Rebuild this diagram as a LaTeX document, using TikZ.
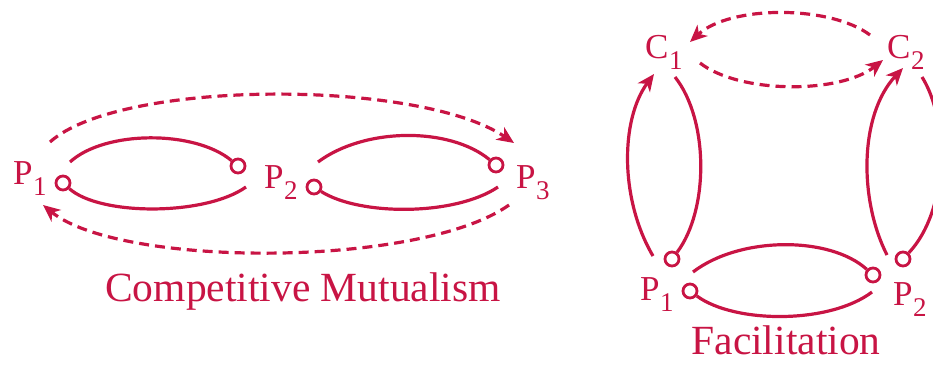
\documentclass[tikz,border=0pt]{standalone}
\usepackage{fontspec}
\setmainfont{Liberation Serif}
\usetikzlibrary{arrows.meta}
\definecolor{crim}{RGB}{200,20,68}
\newcommand{\lbl}[2]{#1\kern0.5pt\raisebox{-11pt}{\fontsize{27}{27}\selectfont #2}}
\begin{document}
\begin{tikzpicture}[x=1pt,y=-1pt,
  dot/.style={circle,draw=crim,fill=white,line width=2.8pt,minimum size=14pt,inner sep=0pt},
  inh/.style={draw=crim,line width=3.2pt},
  posarr/.style={draw=crim,line width=3.2pt,-{Stealth[length=17pt,width=15pt,inset=5pt]}},
  indir/.style={draw=crim,line width=3.2pt,dash pattern=on 10pt off 6pt,-{Stealth[length=17pt,width=15pt,inset=5pt]}},
  lab/.style={text=crim,font=\fontsize{35}{40}\selectfont,inner sep=0pt,anchor=base west},
  ttl/.style={text=crim,font=\fontsize{41.5}{48}\selectfont,inner sep=0pt,anchor=base}]
\useasboundingbox (0,0) rectangle (933,364);

% ---------- Competitive Mutualism ----------
\node[lab] (LP1) at (13,184) {\lbl{P}{1}};
\node[lab] (LP2) at (264,188) {\lbl{P}{2}};
\node[lab] (LP3) at (516,188) {\lbl{P}{3}};
\node[dot] (a1) at (63,183) {};
\node[dot] (a2) at (238,166) {};
\node[dot] (a3) at (314,187) {};
\node[dot] (a4) at (496,165) {};
\coordinate (s1) at (70,162);
\coordinate (s2) at (246,187);
\coordinate (s3) at (318,162);
\coordinate (s4) at (498,187);
\draw[inh] (s1) .. controls (105,130) and (195,130) .. (a2);
\draw[inh] (s2) .. controls (205,216) and (100,216) .. (a1);
\draw[inh] (s3) .. controls (365,127) and (450,127) .. (a4);
\draw[inh] (s4) .. controls (455,216) and (360,216) .. (a3);
\coordinate (d1) at (50,142);
\coordinate (d2) at (514,143);
\coordinate (d3) at (509,205);
\coordinate (d4) at (43,205);
\draw[indir] (d1) .. controls (120,79) and (420,79) .. (d2);
\draw[indir] (d3) .. controls (420,268) and (120,268) .. (d4);
\node[ttl] (T1) at (303,301) {Competitive Mutualism};

% ---------- Facilitation ----------
\node[lab] (C1) at (645,58) {\lbl{C}{1}};
\node[lab] (C2) at (887,58) {\lbl{C}{2}};
\node[lab] (FP1) at (640,300) {\lbl{P}{1}};
\node[lab] (FP2) at (893,305) {\lbl{P}{2}};
\node[dot] (q1) at (672,259) {};
\node[dot] (q2) at (690,291) {};
\node[dot] (q3) at (873,275) {};
\node[dot] (q4) at (903,259) {};
\coordinate (e1) at (653,256);
\coordinate (e2) at (654,74);
\coordinate (e3) at (675,77);
\coordinate (e4) at (887,255);
\coordinate (e5) at (903,68);
\coordinate (e6) at (922,77);
\coordinate (e7) at (693,272);
\coordinate (e8) at (872,292);
\draw[posarr] (e1) .. controls (620,200) and (620,120) .. (e2);
\draw[inh] (e3) .. controls (709,120) and (709,210) .. (q1);
\draw[posarr] (e4) .. controls (859,200) and (859,115) .. (e5);
\draw[inh] (e6) .. controls (949,120) and (949,210) .. (q4);
\draw[inh] (e7) .. controls (740,236) and (830,236) .. (q3);
\draw[inh] (e8) .. controls (830,324) and (735,324) .. (q2);
\coordinate (f1) at (870,35);
\coordinate (f2) at (690,42);
\coordinate (f3) at (700,63);
\coordinate (f4) at (883,60);
\draw[indir] (f1) .. controls (830,5) and (730,5) .. (f2);
\draw[indir] (f3) .. controls (740,94) and (840,94) .. (f4);
\node[ttl] (T2) at (786,354) {Facilitation};
\end{tikzpicture}
\end{document}
